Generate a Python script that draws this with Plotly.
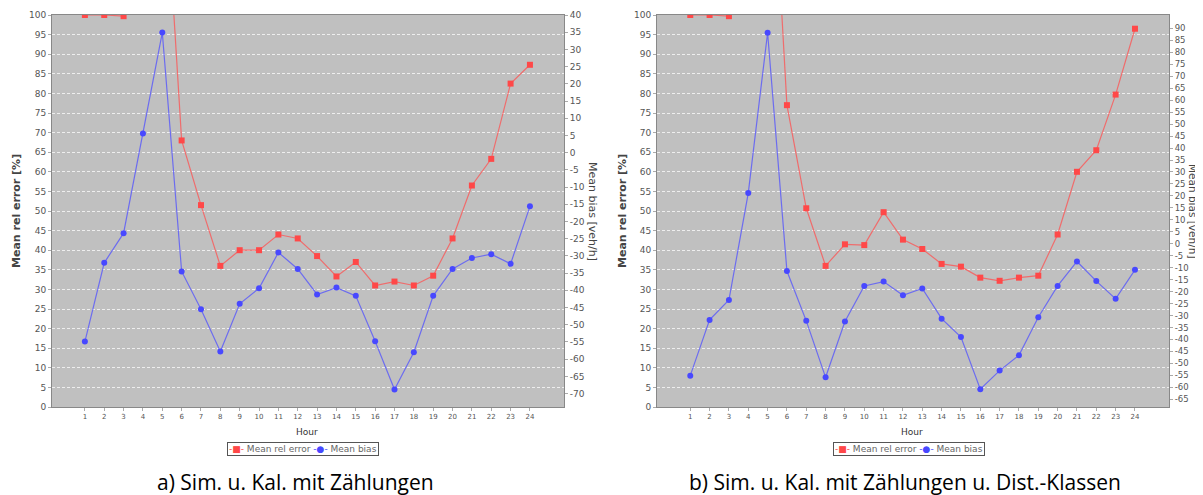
import plotly.graph_objects as go

hours = list(range(1, 25))
hour_labels = [str(h) for h in hours]

# Chart a) Sim. u. Kal. mit Zählungen
rel_err_a = [100, 100, 99.7, 140, 148, 68, 51.5, 36, 40, 40, 44, 43, 38.5, 33.3, 37,
             31, 32, 31, 33.5, 43, 56.5, 63.3, 82.5, 87.3]
bias_a = [-54.9, -32.0, -23.4, 5.6, 34.9, -34.5, -45.5, -57.8, -43.9, -39.4, -29.0, -33.8,
          -41.2, -39.2, -41.6, -54.8, -68.8, -58.0, -41.6, -33.8, -30.6, -29.5, -32.3, -15.6]

# Chart b) Sim. u. Kal. mit Zählungen u. Dist.-Klassen
rel_err_b = [100, 100, 99.7, 150, 165, 77, 50.7, 36, 41.5, 41.3, 49.7, 42.7, 40.3, 36.5, 35.8,
             33, 32.2, 33, 33.5, 44, 60, 65.5, 79.7, 96.5]
bias_b = [-55.1, -31.8, -23.5, 21.2, 88.2, -11.4, -32.2, -55.8, -32.5, -17.6, -15.8, -21.5,
          -18.7, -31.3, -39.0, -60.8, -53.0, -46.6, -30.7, -17.6, -7.4, -15.6, -23.0, -10.9]

# tick labels
rel_ticks = list(range(0, 101, 5))
rel_tick_labels = [str(v) for v in rel_ticks]
bias_ticks_a = list(range(-70, 41, 5))
bias_tick_labels_a = [str(v) for v in bias_ticks_a]
bias_ticks_b = list(range(-65, 91, 5))
bias_tick_labels_b = [str(v) for v in bias_ticks_b]

RED = "#ff4848"
RED_LINE = "rgba(255,80,80,0.75)"
BLUE = "#4848ff"
BLUE_LINE = "rgba(80,80,255,0.75)"
PLOT_BG = "#c0c0c0"
TICK_COL = "#555555"
FONT = "DejaVu Sans"

# page body has an 8px margin: figure is offset by 8px
OFF = 8
W, H = 1203 - OFF, 495 - OFF


def fx(px):
    return (px - OFF) / W


def fy(py):
    return 1 - (py - OFF) / H


fig = go.Figure()


def add_series(xa, ya_left, ya_right, rel, bias):
    fig.add_trace(go.Scatter(x=hours, y=rel, xaxis=xa, yaxis=ya_left, mode="lines+markers",
                             name="Mean rel error", showlegend=False,
                             line=dict(color=RED_LINE, width=1.2),
                             marker=dict(symbol="square", size=6, color=RED)))
    fig.add_trace(go.Scatter(x=hours, y=bias, xaxis=xa, yaxis=ya_right, mode="lines+markers",
                             name="Mean bias", showlegend=False,
                             line=dict(color=BLUE_LINE, width=1.2),
                             marker=dict(symbol="circle", size=6, color=BLUE)))


add_series("x", "y", "y2", rel_err_a, bias_a)
add_series("x2", "y3", "y4", rel_err_b, bias_b)

ydom = [fy(407), fy(15)]
dom_a = [fx(52), fx(564)]
dom_b = [fx(657), fx(1169)]

xcommon = dict(tickmode="array", tickvals=hours, ticktext=hour_labels,
               tickfont=dict(size=7, color=TICK_COL, family=FONT),
               ticks="outside", ticklen=3, tickcolor="#aaaaaa",
               showgrid=False, zeroline=False, showline=True, linecolor="#888888",
               mirror=True, linewidth=1, automargin=False)


def ycommon(size, vals, labels):
    return dict(tickmode="array", tickvals=vals, ticktext=labels,
                tickfont=dict(size=size, color=TICK_COL, family=FONT),
                ticks="outside", ticklen=3, tickcolor="#aaaaaa", zeroline=False,
                automargin=False)


grid = dict(showgrid=True, gridcolor="#eeeeee", griddash="3px,2px", gridwidth=1)

fig.update_layout(
    template="none",
    width=W, height=H,
    margin=dict(l=0, r=0, t=0, b=0, autoexpand=False),
    paper_bgcolor="white", plot_bgcolor=PLOT_BG,
    font=dict(family=FONT),
    showlegend=False,
    xaxis=dict(domain=dom_a, range=[-0.7, 25.76], anchor="y", **xcommon),
    xaxis2=dict(domain=dom_b, range=[-0.72, 25.76], anchor="y3", **xcommon),
    yaxis=dict(domain=ydom, range=[0, 100], anchor="x",
               showline=True, linecolor="#888888", mirror=True, **grid,
               **ycommon(9, rel_ticks, rel_tick_labels)),
    yaxis2=dict(domain=ydom, range=[-73.9, 40], anchor="x",
                overlaying="y", side="right", showgrid=False,
                **ycommon(9, bias_ticks_a, bias_tick_labels_a)),
    yaxis3=dict(domain=ydom, range=[0, 100], anchor="x2",
                showline=True, linecolor="#888888", mirror=True, **grid,
                **ycommon(9, rel_ticks, rel_tick_labels)),
    yaxis4=dict(domain=ydom, range=[-68.2, 95.6], anchor="x2",
                overlaying="y3", side="right", showgrid=False,
                **ycommon(8.5, bias_ticks_b, bias_tick_labels_b)),
)

mid = (ydom[0] + ydom[1]) / 2
legend_text = ("<span style='color:#ff4848'>-■-</span> Mean rel error "
               "<span style='color:#4848ff'>-●-</span> Mean bias")
annots = [
    dict(text="<b>Mean rel error [%]</b>", x=fx(16), y=mid, textangle=-90,
         font=dict(size=11, color="#444444")),
    dict(text="Mean bias [veh/h]", x=fx(593), y=mid, textangle=90,
         font=dict(size=11, color="#444444")),
    dict(text="<b>Mean rel error [%]</b>", x=fx(622), y=mid, textangle=-90,
         font=dict(size=11, color="#444444")),
    dict(text="Mean bias [veh/h]", x=fx(1193), y=mid, textangle=90,
         font=dict(size=10.5, color="#444444")),
    dict(text="Hour", x=fx(307), y=fy(432), font=dict(size=9, color="#333333")),
    dict(text="Hour", x=fx(912), y=fy(432), font=dict(size=9, color="#333333")),
    dict(text=legend_text, x=fx(303), y=fy(448.5), font=dict(size=9, color="#666666"),
         bordercolor="#555555", borderwidth=1, borderpad=1, bgcolor="white"),
    dict(text=legend_text, x=fx(909), y=fy(448.5), font=dict(size=9, color="#666666"),
         bordercolor="#555555", borderwidth=1, borderpad=1, bgcolor="white"),
    dict(text="a) Sim. u. Kal. mit Zählungen", x=fx(295), y=fy(482),
         font=dict(size=21, color="black", family="Open Sans")),
    dict(text="b) Sim. u. Kal. mit Zählungen u. Dist.-Klassen", x=fx(905), y=fy(482),
         font=dict(size=21, color="black", family="Open Sans")),
]
for a in annots:
    fig.add_annotation(xref="paper", yref="paper", showarrow=False, xanchor="center",
                       yanchor="middle", **a)

fig.write_html("out.html")
